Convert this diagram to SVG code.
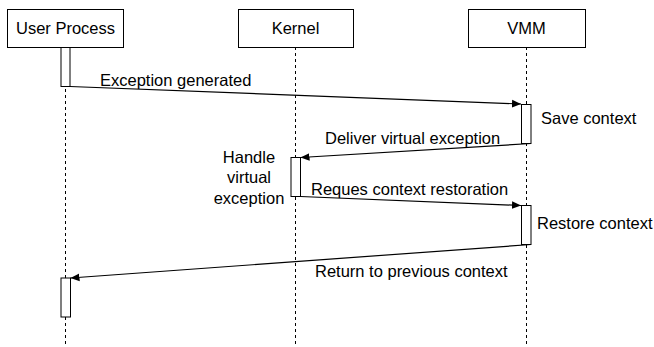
<svg xmlns="http://www.w3.org/2000/svg" width="654" height="347" viewBox="0 0 654 347">
<defs>
<style>
text{font-family:"Liberation Sans",Arial,Helvetica,sans-serif;font-size:16.5px;fill:#000}
.box{fill:#fff;stroke:#000;stroke-width:1}
.life{stroke:#000;stroke-width:1;stroke-dasharray:3 3;fill:none}
.bar{fill:#fff;stroke:#000;stroke-width:1}
.msg{stroke:#000;stroke-width:1.2;fill:none;marker-end:url(#arr)}
.c{text-anchor:middle}
</style>
<marker id="arr" markerUnits="userSpaceOnUse" markerWidth="10" markerHeight="10" viewBox="0 0 10 10" refX="9" refY="5" orient="auto">
<path d="M0,1.2 L9,5 L0,8.8 Z" fill="#000"/>
</marker>
</defs>
<rect width="654" height="347" fill="#fff"/>
<g id="lifelines">
<line class="life" x1="65.5" y1="47" x2="65.5" y2="347"/>
<line class="life" x1="295.5" y1="47" x2="295.5" y2="347"/>
<line class="life" x1="526.5" y1="47" x2="526.5" y2="347"/>
</g>
<g id="user-process">
<rect class="box" x="7.5" y="9.5" width="116" height="38"/>
<text class="c" x="65.5" y="34">User Process</text>
</g>
<g id="kernel">
<rect class="box" x="238.5" y="9.5" width="115" height="38"/>
<text class="c" x="295.5" y="34">Kernel</text>
</g>
<g id="vmm">
<rect class="box" x="468.5" y="9.5" width="117" height="38"/>
<text class="c" x="526.5" y="34">VMM</text>
</g>
<g id="activations">
<rect class="bar" x="61" y="47.5" width="9" height="39"/>
<rect class="bar" x="521.5" y="104.5" width="9.5" height="39"/>
<rect class="bar" x="291" y="157.5" width="9.5" height="39"/>
<rect class="bar" x="521.5" y="205.5" width="9.5" height="39"/>
<rect class="bar" x="61" y="278" width="9.5" height="39"/>
</g>
<g id="connectors">
<line class="msg" x1="70" y1="86.5" x2="521" y2="104"/>
<line class="msg" x1="531" y1="143.5" x2="300.5" y2="157.5"/>
<line class="msg" x1="300.5" y1="196.5" x2="521" y2="205.5"/>
<line class="msg" x1="531" y1="244.5" x2="70.5" y2="278"/>
</g>
<g id="labels">
<text x="100" y="85.5">Exception generated</text>
<text x="541" y="124">Save context</text>
<text x="325" y="143.5">Deliver virtual exception</text>
<text class="c" x="249" y="163">Handle</text>
<text class="c" x="249" y="183.3">virtual</text>
<text class="c" x="249" y="203.5">exception</text>
<text x="311" y="195">Reques context restoration</text>
<text x="537" y="228.5">Restore context</text>
<text x="315" y="277">Return to previous context</text>
</g>
</svg>
